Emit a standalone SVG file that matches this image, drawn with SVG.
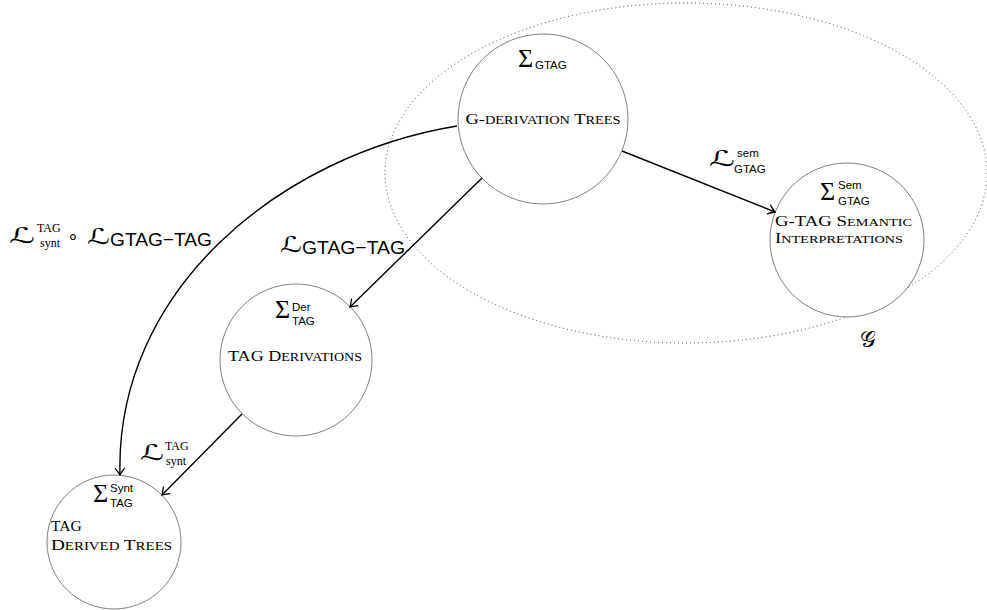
<svg xmlns="http://www.w3.org/2000/svg" width="987" height="610" viewBox="0 0 987 610">
<defs>
<marker id="to" viewBox="-8 -6 10 12" markerWidth="10" markerHeight="12" refX="0" refY="0" orient="auto" markerUnits="userSpaceOnUse">
<path d="M-6.5,-4.5 Q-2,-1 0,0 Q-2,1 -6.5,4.5" fill="none" stroke="#000" stroke-width="1.3" stroke-linecap="round"/>
</marker>
<style>
.node{fill:#fff;stroke:#808080;stroke-width:1}
.edge{fill:none;stroke:#000;stroke-width:1.4;marker-end:url(#to)}
.sig{font-family:"Liberation Serif",serif;font-size:26px;fill:#000}
.ss{font-family:"Liberation Sans",Arial,sans-serif;font-size:11.5px;fill:#000}
.sc{font-family:"Liberation Serif",serif;font-size:15.5px;font-variant:small-caps;fill:#000}
.lc{font-size:17px}
.sc2{font-family:"Liberation Serif",serif;font-size:14.5px;font-variant:small-caps;fill:#000}
.lc2{font-size:15.5px}
.lab{font-family:"Liberation Sans",Arial,sans-serif;font-size:19px;fill:#000}
.scr{font-family:"DejaVu Sans",sans-serif;font-size:22px;fill:#000}
.rm{font-family:"Liberation Serif",serif;font-size:12px;fill:#000}
</style>
</defs>
<rect width="987" height="610" fill="#fff"/>
<ellipse id="G-set" cx="686" cy="173" rx="301" ry="170" fill="none" stroke="#333" stroke-width="0.9" stroke-dasharray="1 3"/>
<text x="860" y="347" class="scr" font-size="22" font-weight="normal">𝒢</text>

<g id="gderiv">
<circle class="node" cx="543" cy="119" r="85"/>
<text x="518" y="67" class="sig">Σ</text>
<text x="535" y="69" class="ss">GTAG</text>
<text x="543" y="124" class="sc" text-anchor="middle" textLength="155" lengthAdjust="spacingAndGlyphs">G-<tspan class="lc">derivation</tspan> T<tspan class="lc">rees</tspan></text>
</g>

<g id="gtagsem">
<circle class="node" cx="847" cy="240" r="77"/>
<text x="820" y="200" class="sig">Σ</text>
<text x="838" y="189" class="ss">Sem</text>
<text x="838" y="205" class="ss">GTAG</text>
<text class="sc2"><tspan x="775" y="226" textLength="137" lengthAdjust="spacingAndGlyphs">G-TAG S<tspan class="lc2">emantic</tspan></tspan><tspan x="775" y="243" textLength="128" lengthAdjust="spacingAndGlyphs">I<tspan class="lc2">nterpretations</tspan></tspan></text>
</g>

<g id="tagder">
<circle class="node" cx="296" cy="360" r="76"/>
<text x="275" y="318" class="sig">Σ</text>
<text x="292" y="311" class="ss">Der</text>
<text x="292" y="325" class="ss">TAG</text>
<text x="295" y="361" class="sc" text-anchor="middle" textLength="134" lengthAdjust="spacingAndGlyphs">TAG D<tspan class="lc">erivations</tspan></text>
</g>

<g id="tagtrees">
<circle class="node" cx="114" cy="542" r="67"/>
<text x="93" y="502" class="sig">Σ</text>
<text x="110" y="492" class="ss">Synt</text>
<text x="110" y="507" class="ss">TAG</text>
<text class="sc"><tspan x="51" y="531">TAG</tspan><tspan x="51" y="550" textLength="121" lengthAdjust="spacingAndGlyphs">D<tspan class="lc">erived</tspan> T<tspan class="lc">rees</tspan></tspan></text>
</g>

<g id="connectors">
<path class="edge" d="M622,151 L775,212"/>
<path class="edge" d="M482,178 L350,307"/>
<path class="edge" d="M242,414 L162,495"/>
<path class="edge" d="M457,126 C280,155 115,290 120,475"/>
</g>

<g id="labels">
<text x="709" y="166" class="scr" textLength="26" lengthAdjust="spacingAndGlyphs">ℒ</text>
<text x="737" y="157" class="ss">sem</text>
<text x="734" y="173" class="ss">GTAG</text>

<text x="280" y="252" class="scr" textLength="22" lengthAdjust="spacingAndGlyphs">ℒ</text>
<text x="302" y="254" class="lab" textLength="103" lengthAdjust="spacingAndGlyphs">GTAG−TAG</text>

<text x="9" y="243" class="scr" textLength="26" lengthAdjust="spacingAndGlyphs">ℒ</text>
<text x="37" y="232" class="rm">TAG</text>
<text x="40" y="247" class="rm">synt</text>
<text x="67" y="243" class="lab" font-size="17">∘</text>
<text x="87" y="244" class="scr" textLength="23" lengthAdjust="spacingAndGlyphs">ℒ</text>
<text x="110" y="246" class="lab" textLength="102" lengthAdjust="spacingAndGlyphs">GTAG−TAG</text>

<text x="140" y="460" class="scr" textLength="24" lengthAdjust="spacingAndGlyphs">ℒ</text>
<text x="165" y="450" class="rm">TAG</text>
<text x="166" y="465" class="rm">synt</text>
</g>
</svg>
